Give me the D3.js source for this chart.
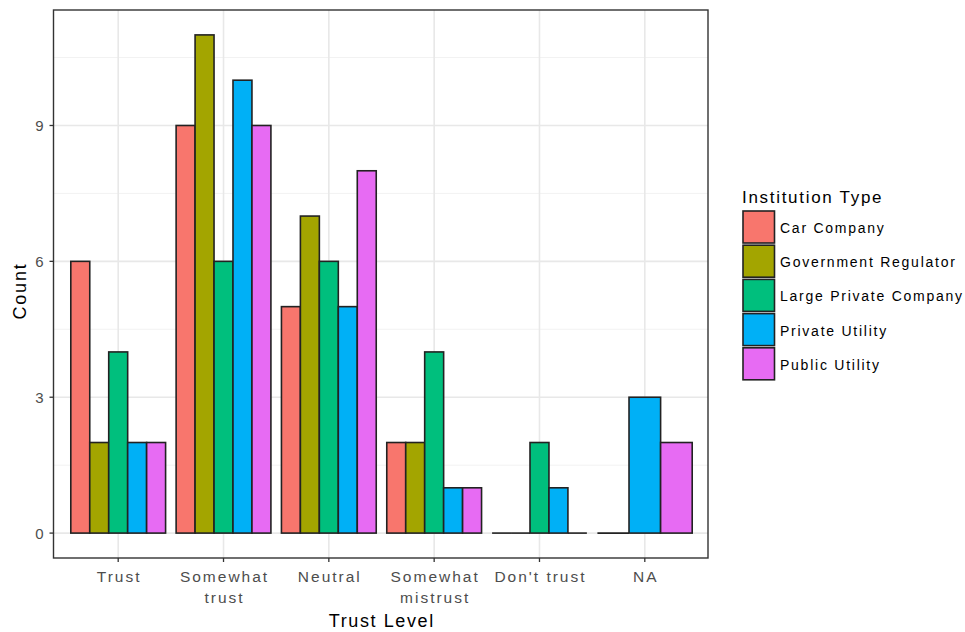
<!DOCTYPE html>
<html><head><meta charset="utf-8">
<script src="https://cdn.jsdelivr.net/npm/d3@7"></script>
<style>body{margin:0;background:#fff}svg{font-family:"Liberation Sans",Arial,sans-serif}</style>
</head><body><svg id="c" width="965" height="632"></svg>
<script>
const categories = ["Trust", "Somewhat trust", "Neutral", "Somewhat mistrust", "Don't trust", "NA"];
const categoryLines = [["Trust"], ["Somewhat", "trust"], ["Neutral"], ["Somewhat", "mistrust"], ["Don't trust"], ["NA"]];
const seriesNames = ["Car Company", "Government Regulator", "Large Private Company", "Private Utility", "Public Utility"];
const seriesColors = ["#F8766D", "#A3A500", "#00BF7D", "#00B0F6", "#E76BF3"];
// null = group absent from that category (ggplot dodge drops it)
const carCompany = [6, 9, 5, 2, 0, 0];
const govRegulator = [2, 11, 7, 2, 0, null];
const largePrivate = [4, 6, 6, 4, 2, null];
const privateUtility = [2, 10, 5, 1, 1, 3];
const publicUtility = [2, 9, 8, 1, 0, 2];
const yTicks = [0, 3, 6, 9];
const yMinor = [1.5, 4.5, 7.5, 10.5];

const series = [carCompany, govRegulator, largePrivate, privateUtility, publicUtility];
const svg = d3.select("#c");
const L = 53.5, R = 708, T = 10, B = 558;

const x = d3.scaleLinear().domain([0.4, 6.6]).range([55, 708]);
const y = d3.scaleLinear().domain([-0.55, 11.55]).range([B, T]);

svg.append("rect").attr("x", L).attr("y", T).attr("width", R - L).attr("height", B - T).attr("fill", "#fff");
const g = svg.append("g");
yMinor.forEach(v => g.append("line").attr("x1", L).attr("x2", R).attr("y1", y(v)).attr("y2", y(v)).attr("stroke", "#f2f2f2").attr("stroke-width", 1));
yTicks.forEach(v => g.append("line").attr("x1", L).attr("x2", R).attr("y1", y(v)).attr("y2", y(v)).attr("stroke", "#e8e8e8").attr("stroke-width", 1.6));
categories.forEach((c, i) => g.append("line").attr("x1", x(i + 1)).attr("x2", x(i + 1)).attr("y1", T).attr("y2", B).attr("stroke", "#e8e8e8").attr("stroke-width", 1.6));

// bars
categories.forEach((c, i) => {
  const present = series.map((s, k) => ({k, v: s[i]})).filter(d => d.v !== null);
  const n = present.length;
  const bw = 0.9 / n;
  present.forEach((d, j) => {
    const x0 = x(i + 1 - 0.45 + j * bw), x1 = x(i + 1 - 0.45 + (j + 1) * bw);
    if (d.v === 0) {
      g.append("line").attr("x1", x0).attr("x2", x1).attr("y1", y(0)).attr("y2", y(0))
        .attr("stroke", "#222").attr("stroke-width", 1.6);
    } else {
      g.append("rect").attr("x", x0).attr("y", y(d.v)).attr("width", x1 - x0)
        .attr("height", y(0) - y(d.v))
        .attr("fill", seriesColors[d.k]).attr("stroke", "#222").attr("stroke-width", 1.6);
    }
  });
});

svg.append("rect").attr("x", L).attr("y", T).attr("width", R - L).attr("height", B - T).attr("fill", "none").attr("stroke", "#333").attr("stroke-width", 1.4);

// y axis
yTicks.forEach(v => {
  svg.append("line").attr("x1", L - 4).attr("x2", L).attr("y1", y(v)).attr("y2", y(v)).attr("stroke", "#333").attr("stroke-width", 1.3);
  svg.append("text").attr("x", L - 10).attr("y", y(v) + 5.5).attr("text-anchor", "end").attr("font-size", 15).attr("fill", "#4d4d4d").text(v);
});
// x axis
categories.forEach((c, i) => {
  svg.append("line").attr("x1", x(i + 1)).attr("x2", x(i + 1)).attr("y1", B).attr("y2", B + 4).attr("stroke", "#333").attr("stroke-width", 1.3);
  const t = svg.append("text").attr("text-anchor", "middle").attr("font-size", 15.5).attr("letter-spacing", 2).attr("fill", "#4d4d4d");
  categoryLines[i].forEach((ln, k) => t.append("tspan").attr("x", x(i + 1) + 1).attr("y", 582 + k * 21).text(ln));
});
svg.append("text").attr("x", (L + R) / 2 + 1).attr("y", 627).attr("text-anchor", "middle").attr("font-size", 18).attr("letter-spacing", 1.6).attr("fill", "#000").text("Trust Level");
svg.append("text").attr("transform", `translate(26,${(T + B) / 2 + 7}) rotate(-90)`).attr("text-anchor", "middle").attr("font-size", 18).attr("letter-spacing", 1.8).attr("fill", "#000").text("Count");

// legend
svg.append("text").attr("x", 742).attr("y", 203).attr("font-size", 17).attr("letter-spacing", 1.7).attr("fill", "#000").text("Institution Type");
seriesNames.forEach((s, k) => {
  const ky = 211 + k * 34.2;
  svg.append("rect").attr("x", 743).attr("y", ky).attr("width", 31.5).attr("height", 32).attr("fill", seriesColors[k]).attr("stroke", "#222").attr("stroke-width", 1.6);
  svg.append("text").attr("x", 780).attr("y", ky + 22).attr("font-size", 14).attr("letter-spacing", 1.75).attr("fill", "#000").text(s);
});
</script></body></html>
